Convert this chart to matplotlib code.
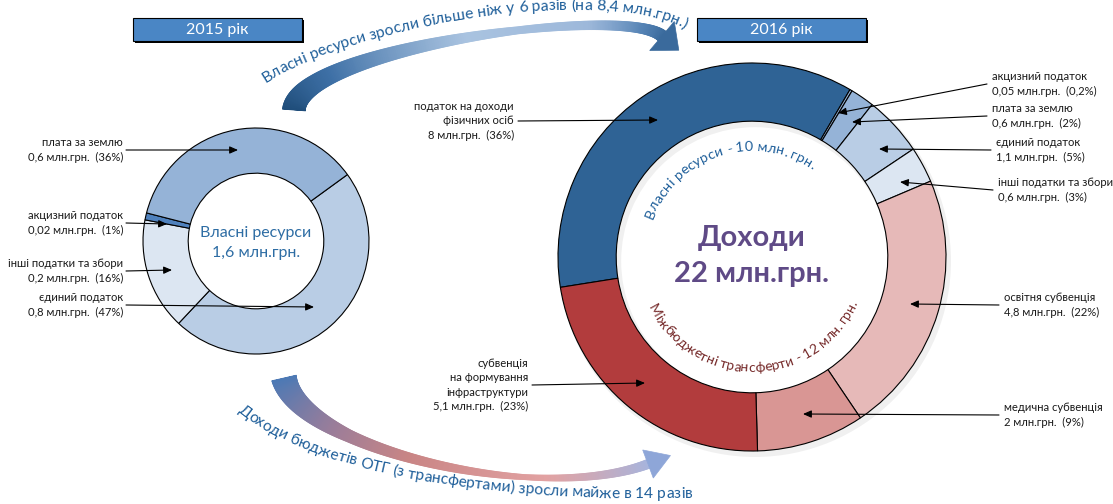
import numpy as np
import matplotlib
matplotlib.use('Agg')
import matplotlib.pyplot as plt
from matplotlib.patches import Rectangle, Polygon, Wedge
from matplotlib.collections import PolyCollection
from matplotlib.colors import LinearSegmentedColormap
from matplotlib.font_manager import FontProperties

FAMILY = ['Lato', 'DejaVu Sans']
plt.rcParams['font.family'] = FAMILY

W, H = 1113, 504

# 2015: own resources
left_labels = ['єдиний податок', 'інші податки та збори', 'акцизний податок', 'плата за землю']
left_values = [0.8, 0.2, 0.02, 0.6]
left_shares = [47, 16, 1, 36]
left_colors = ['#B9CDE5', '#DCE6F2', '#4F81BD', '#95B3D7']
left_total = 1.6

# 2016: income
right_labels = ['податок на доходи\nфізичних осіб', 'акцизний податок', 'плата за землю',
                'єдиний податок', 'інші податки та збори', 'освітня субвенція',
                'медична субвенція', 'субвенція\nна формування\nінфраструктури']
right_values = [8, 0.05, 0.6, 1.1, 0.6, 4.8, 2, 5.1]
right_shares = [36, 0.2, 2, 5, 3, 22, 9, 23]
right_colors = ['#2F6395', '#95B3D7', '#95B3D7', '#B9CDE5', '#DCE6F2',
                '#E6B9B8', '#D99694', '#B23C3D']
right_total = 22
own_2016 = 10
transfers_2016 = 12

years = ['2015 рік', '2016 рік']
top_note = 'Власні ресурси зросли більше ніж у 6 разів (на 8,4 млн.грн.)'
bottom_note = 'Доходи бюджетів ОТГ (з трансфертами) зросли майже в 14 разів'


def num(v):
    return str(v).replace('.', ',')


fig = plt.figure(figsize=(W / 100, H / 100), dpi=100)
ax = fig.add_axes([0, 0, 1, 1])
renderer = fig.canvas.get_renderer()

# donuts (y axis is inverted, so counterclock=True looks clockwise)
lc, lr = (256, 241), 113
rc, rr = (752, 257), 194
ax.add_patch(Wedge((rc[0] + 3, rc[1] + 4), rr + 2, 0, 360, width=rr * 0.3 + 4,
                   color='black', alpha=0.06, lw=0, zorder=0))
ax.pie(left_shares, colors=left_colors, startangle=-36, counterclock=True,
       radius=lr, center=lc,
       wedgeprops=dict(width=lr * 0.4, edgecolor='black', linewidth=0.8))
ax.pie(right_shares, colors=right_colors, startangle=-189, counterclock=True,
       radius=rr, center=rc,
       wedgeprops=dict(width=rr * 0.3, edgecolor='black', linewidth=0.8))

ax.set_xlim(0, W)
ax.set_ylim(H, 0)
ax.set_aspect('equal')
ax.set_position([0, 0, 1, 1])
ax.axis('off')

# year boxes
for x0, yr in zip([133, 697], years):
    ax.add_patch(Rectangle((x0 + 1.5, 19.5), 169, 23, facecolor='black', lw=0, zorder=3))
    ax.add_patch(Rectangle((x0, 18), 169, 23, facecolor='#4A86C5',
                           edgecolor='black', lw=0.8, zorder=4))
    ax.text(x0 + 84.5, 30, yr, color='white', fontsize=11.5, ha='center',
            va='center', zorder=5)

# center texts
ax.text(lc[0], 243, f'Власні ресурси\n{num(left_total)} млн.грн.', color='#2E6DA4',
        fontsize=11.5, ha='center', va='center', linespacing=1.55)
ax.text(rc[0], 256, f'Доходи\n{right_total} млн.грн.', color='#5F4A86',
        fontsize=21, fontweight='bold', ha='center', va='center', linespacing=1.45)

# labels with arrows
arrow_kw = dict(arrowstyle='-|>,head_length=0.5,head_width=0.22', color='black',
                lw=0.8, shrinkA=0, shrinkB=0, mutation_scale=10)
lab_fs = 8.1

left_pos = [(123, 305, 314, 307), (123, 271, 172, 270), (123, 223, 167, 224),
            (123, 150, 238, 150)]
for lab, v, sh, (tx, ty, ax_, ay) in zip(left_labels, left_values, left_shares, left_pos):
    ax.text(tx, ty, f'{lab}\n{num(v)} млн.грн.  ({num(sh)}%)', fontsize=lab_fs,
            ha='right', va='center', multialignment='right', color='#1a1a1a',
            linespacing=1.4)
    ax.annotate('', xy=(ax_, ay), xytext=(tx + 3, ty), arrowprops=arrow_kw)

right_pos = [(514, 121, 658, 120, 'r'), (992, 84, 838, 113, 'l'), (992, 116, 852, 122, 'l'),
             (996, 150, 879, 149, 'l'), (998, 190, 900, 182, 'l'), (1004, 305, 910, 304, 'l'),
             (1004, 415, 803, 414, 'l'), (528, 385, 645, 383, 'r')]
for lab, v, sh, (tx, ty, ax_, ay, side) in zip(right_labels, right_values, right_shares, right_pos):
    ha = 'right' if side == 'r' else 'left'
    ax.text(tx, ty, f'{lab}\n{num(v)} млн.грн.  ({num(sh)}%)', fontsize=lab_fs,
            ha=ha, va='center', multialignment=ha, color='#1a1a1a', linespacing=1.4)
    sx = tx + 4 if side == 'r' else tx - 5
    ax.annotate('', xy=(ax_, ay), xytext=(sx, ty), arrowprops=arrow_kw)


# curved things
def bezier(p, n=500):
    p = np.asarray(p, float)
    t = np.linspace(0, 1, n)[:, None]
    return ((1 - t) ** 3 * p[0] + 3 * (1 - t) ** 2 * t * p[1]
            + 3 * (1 - t) * t ** 2 * p[2] + t ** 3 * p[3])


def arc(c, r, a0, a1, n=500):
    a = np.radians(np.linspace(a0, a1, n))
    return np.column_stack([c[0] + r * np.cos(a), c[1] - r * np.sin(a)])


def text_w(s, fp):
    return renderer.get_text_width_height_descent(s, fp, ismath=False)[0]


def curved_text(s, pts, fs, color):
    cum = np.concatenate([[0], np.cumsum(np.hypot(*np.diff(pts, axis=0).T))])
    fp = FontProperties(family=FAMILY, size=fs)
    full = text_w(s, fp)
    if full > cum[-1]:
        # shrink to fit the curve
        fp = FontProperties(family=FAMILY, size=fs * cum[-1] / full * 0.99)
        full = text_w(s, fp)
    s0 = (cum[-1] - full) / 2
    for i, ch in enumerate(s):
        if ch == ' ':
            continue
        pos = s0 + text_w(s[:i + 1], fp) - text_w(ch, fp) / 2
        x = np.interp(pos, cum, pts[:, 0])
        y = np.interp(pos, cum, pts[:, 1])
        k = int(np.clip(np.searchsorted(cum, pos), 1, len(pts) - 1))
        dx, dy = pts[k] - pts[k - 1]
        ang = np.degrees(np.arctan2(-dy, dx))
        ax.text(x, y, ch, fontproperties=fp, color=color, rotation=ang,
                rotation_mode='anchor', ha='center', va='baseline', zorder=6)


def curved_arrow(pts, wt, wv, cstops, head_len, head_hw, head_color):
    n = len(pts)
    t = np.linspace(0, 1, n)
    w = np.interp(t, wt, wv)
    d = np.gradient(pts, axis=0)
    d /= np.hypot(d[:, 0], d[:, 1])[:, None]
    nrm = np.column_stack([-d[:, 1], d[:, 0]])
    a = pts + nrm * w[:, None] / 2
    b = pts - nrm * w[:, None] / 2
    quads = [np.array([a[i], a[i + 1], b[i + 1], b[i]]) for i in range(n - 1)]
    cmap = LinearSegmentedColormap.from_list('g', cstops)
    cols = cmap((t[:-1] + t[1:]) / 2)
    ax.add_collection(PolyCollection(quads, facecolors=cols, edgecolors=cols,
                                     linewidths=0.6, zorder=2))
    e, de, ne = pts[-1], d[-1], nrm[-1]
    head = [e + ne * head_hw, e + de * head_len, e - ne * head_hw]
    ax.add_patch(Polygon(head, closed=True, facecolor=head_color,
                         edgecolor=head_color, lw=0.5, zorder=2))


top_curve = bezier([(294, 110), (298, 48), (625, 4), (662, 36)])
curved_arrow(top_curve, [0, 0.15, 0.6, 0.9, 1], [23, 18, 7, 10, 12],
             [(0, '#1F4D7A'), (0.2, '#3E70A6'), (0.5, '#A9C3E0'), (0.75, '#9DB8DA'),
              (0.9, '#5583B5'), (1, '#3C6C9E')], 22, 19, '#3A6A9C')

bot_curve = bezier([(284, 378), (300, 450), (540, 505), (648, 464)])
curved_arrow(bot_curve, [0, 0.3, 0.7, 1], [25, 12, 5, 9],
             [(0, '#4C79B5'), (0.25, '#9A7D9A'), (0.45, '#C98585'), (0.75, '#E2A2A2'),
              (1, '#A8B4DC')], 24, 15, '#8EA6D8')

curved_text(top_note, bezier([(264, 84), (350, 26), (605, -18), (686, 30)]), 13.5, '#1F5F9A')
curved_text(bottom_note, bezier([(236, 410), (320, 480), (515, 502), (694, 498)]), 13.5, '#1F5F9A')

curved_text(f'Власні ресурси - {own_2016} млн. грн.', arc(rc, 106, 160, 55), 11, '#1F5F9A')
curved_text(f'Міжбюджетні трансферти - {transfers_2016} млн. грн.', arc(rc, 115, -155, -23),
            11, '#772C2C')

fig.savefig('out.png', dpi=100)
